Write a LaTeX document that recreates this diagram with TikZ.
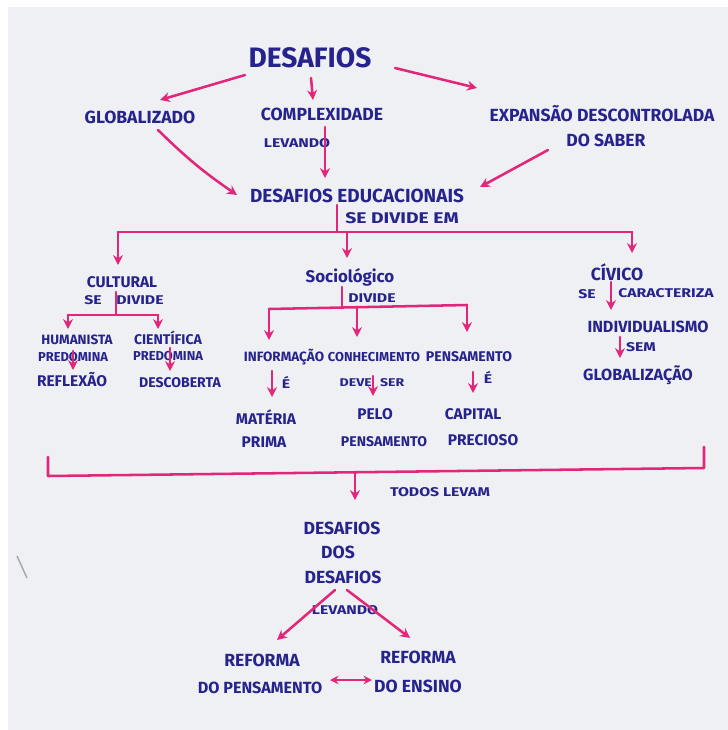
\documentclass[tikz,border=0pt]{standalone}
\usepackage{fontspec}
\setmainfont{Fira Sans}
\newfontfamily\widefont{Fira Sans}[FakeStretch=1.25]
\usetikzlibrary{arrows.meta,calc}
\definecolor{ink}{RGB}{38,36,140}
\definecolor{mark}{RGB}{226,38,122}
\definecolor{paper}{RGB}{239,240,244}

\begin{document}
\begin{tikzpicture}[x=0.025cm,y=-0.025cm,
    big/.style={text=ink,font=\bfseries\fontsize{20}{23}\selectfont,inner sep=1pt},
    txt/.style={text=ink,font=\bfseries\fontsize{12.5}{15}\selectfont,inner sep=1pt},
    mid/.style={text=ink,font=\bfseries\fontsize{11}{13}\selectfont,inner sep=1pt},
    sml/.style={text=ink,font=\bfseries\fontsize{9.2}{11}\selectfont,inner sep=1pt},
    lbl/.style={text=ink,font=\widefont\bfseries\fontsize{9}{10}\selectfont,inner sep=1pt},
    arr/.style={draw=mark,line width=1.8pt,line cap=round,-{Stealth[length=7pt,width=7pt]}},
    arrb/.style={draw=mark,line width=1.8pt,{Stealth[length=6pt,width=6pt]}-{Stealth[length=6pt,width=6pt]}},
    ln/.style={draw=mark,line width=1.8pt,line cap=round,line join=round}]

     \useasboundingbox (0,0) rectangle (728,730);
     \fill[white] (0,0) rectangle (728,730);
     \fill[paper] (8,7) rectangle (728,730);
     \draw[gray!70,line width=1pt] (17,556) to (27,578);

     % top
     \node[big] (D0)  at (310,58) {DESAFIOS};
     \node[txt] (G1)  at (140,117) {GLOBALIZADO};
     \node[txt] (C1)  at (322,114) {COMPLEXIDADE};
     \node[lbl] (L1)  at (297,143) {LEVANDO};
     \node[txt] (E1)  at (602,114) {EXPANSÃO DESCONTROLADA};
     \node[txt] (E2)  at (606,140) {DO SABER};
     \node[txt,font=\bfseries\fontsize{13.5}{16}\selectfont] (DE)  at (357,196) {DESAFIOS EDUCACIONAIS};
     \node[lbl,font=\widefont\bfseries\fontsize{11}{12}\selectfont] (SD)  at (402,218) {SE DIVIDE EM};

     \draw [arr] ($(D0)+(-65,17)$) to ($(G1)+(20,-17)$);
     \draw [arr] ($(D0)+(1,20)$) to ($(C1)+(-9,-14)$);
     \draw [arr] ($(D0)+(85,10)$) to ($(E1)+(-125,-26)$);
     \draw [arr] ($(G1)+(18,13)$) to[bend right=5] ($(DE)+(-120,-1)$);
     \draw [arr] ($(C1)+(3,13)$) to ($(DE)+(-32,-18)$);
     \draw [arr] ($(E2)+(-58,10)$) to ($(DE)+(123,-9)$);

     \coordinate (j0) at (337,232);
     \coordinate (bL) at (118,232);
     \coordinate (bM) at (347,232);
     \coordinate (bR) at (632,232);
     \draw [ln] ($(DE)+(-20,9)$) to (j0);
     \draw [ln] (bL) to (bR);

     % cultural
     \node[mid] (CU)  at (122,282) {CULTURAL};
     \node[lbl] (SE1) at (93,300) {SE};
     \node[lbl] (DV1) at (140,300) {DIVIDE};
     \node[sml,font=\bfseries\fontsize{9.6}{11}\selectfont] (HU)  at (77,340) {HUMANISTA};
     \node[sml] (PH)  at (73,357) {PREDOMINA};
     \node[mid] (RF)  at (72,380) {REFLEXÃO};
     \node[sml,font=\bfseries\fontsize{10}{12}\selectfont] (CI)  at (168,338) {CIENTÍFICA};
     \node[sml] (PC)  at (168,356) {PREDOMINA};
     \node[mid,font=\bfseries\fontsize{10}{12}\selectfont] (DC)  at (180,383) {DESCOBERTA};

     \draw [arr] (bL) to ($(CU)+(-4,-17)$);
     \coordinate (cj) at (116,315);
     \coordinate (cL) at (68,315);
     \coordinate (cR) at (158,315);
     \draw [ln] ($(CU)+(-6,10)$) to (cj);
     \draw [ln] (cL) to (cR);
     \draw [arr] (cL) to ($(HU)+(-9,-11)$);
     \draw [arr] (cR) to ($(CI)+(-10,-9)$);
     \draw [arr] ($(HU)+(-4,11)$) to ($(RF)+(1,-10)$);
     \draw [arr] ($(CI)+(2,10)$) to ($(DC)+(-10,-12)$);

     % sociologico
     \node[txt,font=\bfseries\fontsize{12}{14}\selectfont] (SO)  at (350,277) {Sociológico};
     \node[lbl] (DV2) at (372,298) {DIVIDE};
     \node[sml,font=\bfseries\fontsize{9.6}{11}\selectfont] (IN)  at (284,357) {INFORMAÇÃO};
     \node[lbl] (E3)  at (286,382) {É};
     \node[mid] (MA)  at (266,417) {MATÉRIA};
     \node[mid] (PR)  at (264,442) {PRIMA};
     \node[sml,font=\bfseries\fontsize{9.2}{11}\selectfont] (CO)  at (374,357) {CONHECIMENTO};
     \node[lbl,font=\widefont\bfseries\fontsize{8}{9}\selectfont] (DS)  at (372,383) {DEVE\hspace{6pt}SER};
     \node[mid] (PL)  at (375,414) {PELO};
     \node[mid,font=\bfseries\fontsize{10}{12}\selectfont] (PN)  at (384,442) {PENSAMENTO};
     \node[sml,font=\bfseries\fontsize{10}{12}\selectfont] (PE)  at (469,357) {PENSAMENTO};
     \node[lbl] (E4)  at (488,377) {É};
     \node[mid] (CA)  at (473,414) {CAPITAL};
     \node[mid] (PC2) at (483,440) {PRECIOSO};

     \draw [arr] (bM) to ($(SO)+(-3,-19)$);
     \coordinate (sj) at (342,308);
     \coordinate (sL) at (269,309);
     \coordinate (sM) at (357,307);
     \coordinate (sR) at (467,305);
     \draw [ln] ($(SO)+(-8,10)$) to (sj);
     \draw [ln] (sL) to (sR);
     \draw [arr] (sL) to ($(IN)+(-15,-17)$);
     \draw [arr] (sM) to ($(CO)+(-17,-20)$);
     \draw [arr] (sR) to ($(PE)+(-2,-25)$);
     \draw [arr] ($(IN)+(-12,14)$) to ($(MA)+(6,-20)$);
     \draw [arr] ($(CO)+(-1,19)$) to ($(PL)+(-2,-18)$);
     \draw [arr] ($(PE)+(4,15)$) to ($(CA)+(0,-21)$);

     % civico
     \node[txt] (CV)  at (617,272) {CÍVICO};
     \node[lbl] (SE2) at (587,294) {SE};
     \node[lbl] (CR)  at (666,293) {CARACTERIZA};
     \node[mid,font=\bfseries\fontsize{11.5}{13}\selectfont] (ID)  at (648,327) {INDIVIDUALISMO};
     \node[lbl] (SM)  at (641,347) {SEM};
     \node[mid,font=\bfseries\fontsize{11.5}{13}\selectfont] (GZ)  at (638,375) {GLOBALIZAÇÃO};

     \draw [arr] (bR) to ($(CV)+(15,-19)$);
     \draw [arr] ($(CV)+(-6,10)$) to ($(ID)+(-37,-17)$);
     \draw [arr] ($(ID)+(-28,10)$) to ($(GZ)+(-18,-17)$);

     % bottom
     \coordinate (kL1) at (48,457);
     \coordinate (kL2) at (48,476);
     \coordinate (kM)  at (355,473);
     \coordinate (kR2) at (704,468);
     \coordinate (kR1) at (704,447);
     \draw [ln] (kL1) to (kL2) to (kR2) to (kR1);

     \node[lbl] (TL)  at (440,492) {TODOS LEVAM};
     \node[txt] (DD1) at (342,528) {DESAFIOS};
     \node[txt] (DD2) at (338,552) {DOS};
     \node[txt] (DD3) at (343,577) {DESAFIOS};
     \node[lbl] (LV)  at (345,610) {LEVANDO};
     \node[txt] (RP1) at (262,660) {REFORMA};
     \node[txt,font=\bfseries\fontsize{11.5}{13}\selectfont] (RP2) at (260,688) {DO PENSAMENTO};
     \node[txt] (RE1) at (418,657) {REFORMA};
     \node[txt] (RE2) at (418,686) {DO ENSINO};

     \draw [arr] (kM) to ($(DD1)+(13,-28)$);
     \draw [arr] ($(DD3)+(-8,13)$) to ($(RP1)+(15,-20)$);
     \draw [arr] ($(DD3)+(4,13)$) to ($(RE1)+(-8,-19)$);
     \draw [arrb] ($(RP2)+(70,-8)$) to ($(RE2)+(-46,-6)$);

\end{tikzpicture}
\end{document}
